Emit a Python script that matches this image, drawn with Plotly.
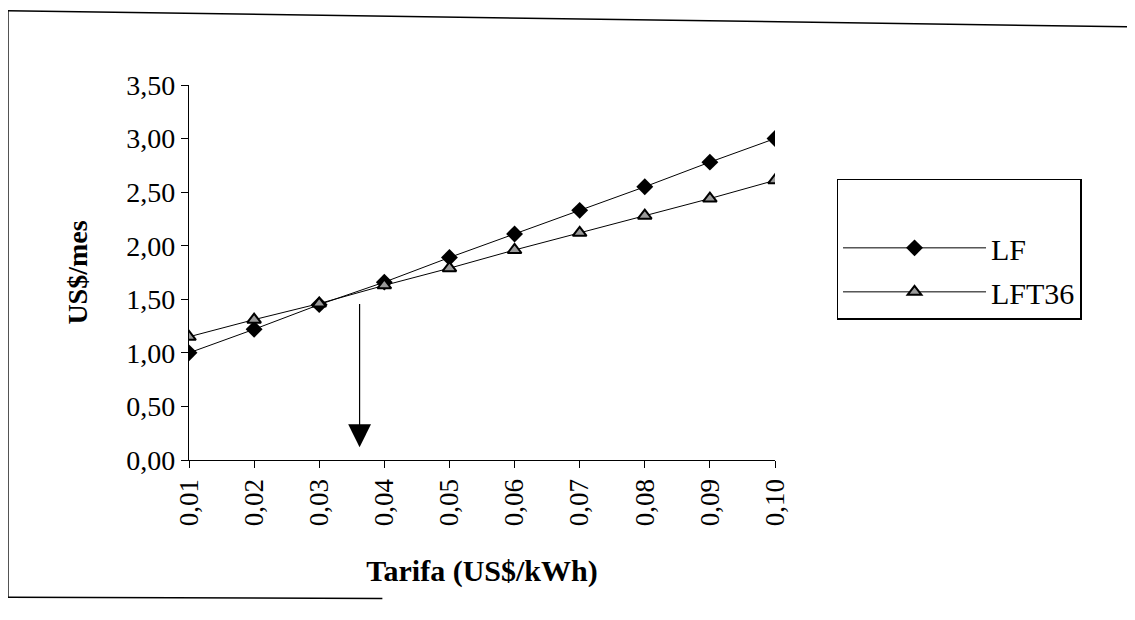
import plotly.graph_objects as go

tarifa = [0.01, 0.02, 0.03, 0.04, 0.05, 0.06, 0.07, 0.08, 0.09, 0.10]
lf = [1.00, 1.22, 1.45, 1.66, 1.89, 2.11, 2.33, 2.55, 2.78, 3.00]
lft36 = [1.15, 1.31, 1.46, 1.63, 1.79, 1.96, 2.12, 2.28, 2.44, 2.61]
y_ticks = [0, 0.5, 1.0, 1.5, 2.0, 2.5, 3.0, 3.5]

arrow_x = 0.0362
arrow_y_start = 1.47
arrow_y_end = 0.12

FONT = "Liberation Serif"

fig = go.Figure()
fig.add_trace(go.Scatter(
    x=tarifa, y=lf, name="LF", mode="lines+markers", legendgroup="a",
    line=dict(color="black", width=1),
    marker=dict(symbol="diamond", size=13, color="black"),
))
fig.add_trace(go.Scatter(
    x=tarifa, y=lft36, name="LFT36", mode="lines+markers", legendgroup="b",
    line=dict(color="black", width=1),
    marker=dict(symbol="triangle-up", size=12, color="#9a9a9a",
                line=dict(color="black", width=2)),
))

fig.add_annotation(
    x=arrow_x, y=arrow_y_end, ax=arrow_x, ay=arrow_y_start,
    xref="x", yref="y", axref="x", ayref="y",
    showarrow=True, arrowhead=2, arrowsize=3.8, arrowwidth=1.2,
    arrowcolor="black", text="",
)

# outer frame of the scanned chart area
frame = dict(color="black", width=1.5)
fig.add_shape(type="line", xref="paper", yref="paper",
              x0=-0.309, y0=1.198, x1=-0.309, y1=-0.366, line=frame)
fig.add_shape(type="line", xref="paper", yref="paper",
              x0=-0.309, y0=1.198, x1=1.62, y1=1.155, line=frame)
fig.add_shape(type="line", xref="paper", yref="paper",
              x0=-0.309, y0=-0.366, x1=0.33, y1=-0.369, line=frame)

fig.update_layout(
    width=1135, height=620,
    margin=dict(l=181, r=368, t=77, b=168),
    paper_bgcolor="white", plot_bgcolor="white",
    separators=",.",
    font=dict(family=FONT, size=26, color="black"),
    showlegend=True,
    legend=dict(
        x=1.105, y=0.75, xanchor="left", yanchor="top",
        bordercolor="black", borderwidth=1.5,
        font=dict(family=FONT, size=30, color="black"),
        title=dict(text=" ", font=dict(family=FONT, size=32)),
        traceorder="grouped", tracegroupgap=2, itemwidth=143,
    ),
    xaxis=dict(
        range=[0.01, 0.10], tickvals=tarifa, tickformat=".2f",
        tickangle=-90, ticks="outside", ticklen=7, tickcolor="black",
        showline=True, linecolor="black", linewidth=1.2,
        showgrid=False, zeroline=False,
        tickfont=dict(family=FONT, size=27),
        title=dict(text="<b>Tarifa (US$/kWh)</b>",
                   font=dict(family=FONT, size=30), standoff=34),
    ),
    yaxis=dict(
        range=[0, 3.5], tickvals=y_ticks, tickformat=".2f",
        ticks="outside", ticklen=7, tickcolor="black",
        showline=True, linecolor="black", linewidth=1.2,
        showgrid=False, zeroline=False,
        tickfont=dict(family=FONT, size=28),
        title=dict(text="<b>US$/mes</b>",
                   font=dict(family=FONT, size=28), standoff=30),
    ),
)

fig.write_html("out.html")
